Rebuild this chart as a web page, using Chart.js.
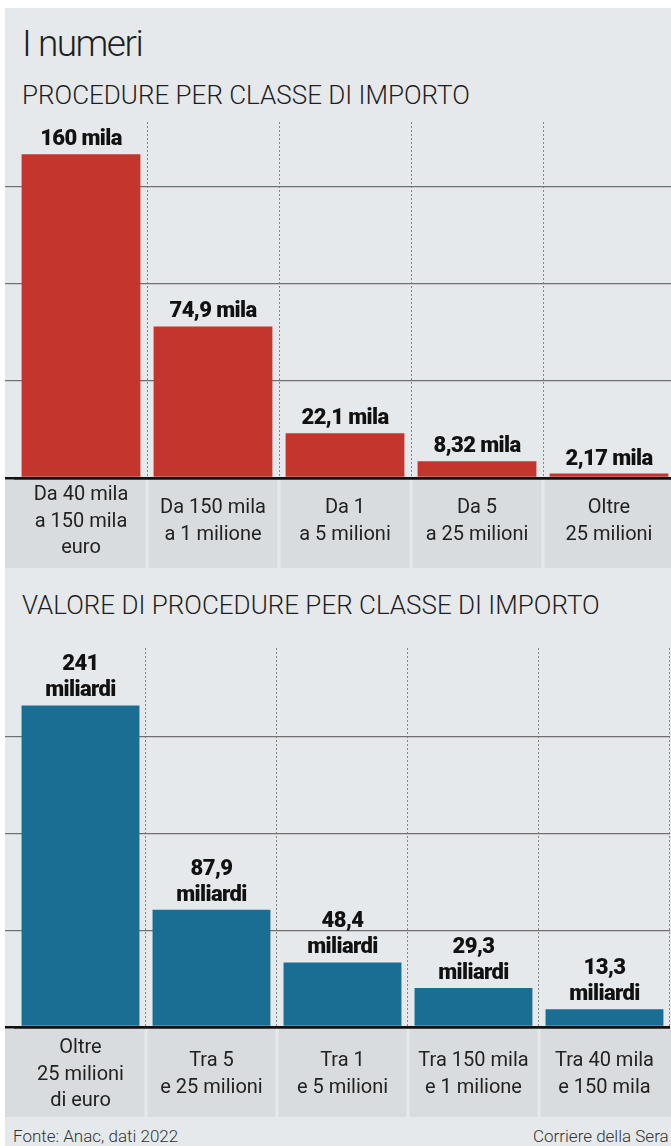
<!DOCTYPE html>
<html><head><meta charset="utf-8">
<script src="https://cdn.jsdelivr.net/npm/chart.js@4.4.1/dist/chart.umd.min.js"></script>
<style>
html,body{margin:0;padding:0;background:#fff;overflow:hidden;width:671px;height:1146px;}
#bg{position:absolute;left:5px;top:8px;width:666px;height:1138px;background:#e6e9ec;}
.t{position:absolute;font-family:Roboto,"DejaVu Sans",sans-serif;color:#1e1e1e;white-space:nowrap;line-height:1;}
#title{left:22px;top:25px;font-size:37px;font-weight:300;letter-spacing:-1.5px;}
#sub1{left:22px;top:82px;font-size:26px;font-weight:300;}
#sub2{left:22px;top:592px;font-size:26px;font-weight:300;}
#src{left:13px;top:1128px;font-size:17px;font-weight:300;color:#333;}
#brand{left:533px;top:1128px;font-size:17px;font-weight:300;color:#333;}
canvas{position:absolute;left:5px;}
#c1{top:110px;}
#c2{top:636px;}
</style>
</head><body>
<div id="bg"></div>
<div class="t" id="title">I numeri</div>
<div class="t" id="sub1">PROCEDURE PER CLASSE DI IMPORTO</div>
<div class="t" id="sub2">VALORE DI PROCEDURE PER CLASSE DI IMPORTO</div>
<canvas id="c1" width="670" height="460" style="width:670px;height:460px"></canvas>
<canvas id="c2" width="670" height="483" style="width:670px;height:483px"></canvas>
<div class="t" id="src">Fonte: Anac, dati 2022</div>
<div class="t" id="brand">Corriere della Sera</div>
<script>
// ---- data ----
const categories1 = [["Da 40 mila","a 150 mila","euro"],["Da 150 mila","a 1 milione"],["Da 1","a 5 milioni"],["Da 5","a 25 milioni"],["Oltre","25 milioni"]];
const values1 = [160, 74.9, 22.1, 8.32, 2.17];
const unit1 = "mila";
const gridValues1 = [0, 48, 96, 144];
const yMax1 = 176;

const categories2 = [["Oltre","25 milioni","di euro"],["Tra 5","e 25 milioni"],["Tra 1","e 5 milioni"],["Tra 150 mila","e 1 milione"],["Tra 40 mila","e 150 mila"]];
const values2 = [241, 87.9, 48.4, 29.3, 13.3];
const unit2 = "miliardi";
const gridValues2 = [0, 72.5, 145, 217.5];
const yMax2 = 284;

// ---- helpers ----
const fmt = v => String(v).replace('.', ',');
const FONT = 'Roboto, "DejaVu Sans", sans-serif';

const boxesPlugin = {
  id: 'boxes',
  beforeDraw(chart) {
    const {ctx, chartArea, scales: {x}} = chart;
    const n = chart.data.labels.length;
    const half = (chartArea.right - chartArea.left) / n / 2;
    ctx.save();
    ctx.fillStyle = '#d9dcdf';
    for (let i = 0; i < n; i++) {
      const c = x.getPixelForValue(i);
      const l = i === 0 ? 0 : c - half + 1.5;
      const r = i === n - 1 ? chart.width : c + half - 1.5;
      ctx.fillRect(l, chartArea.bottom + 2, r - l, 88);
    }
    ctx.restore();
  }
};

const valueLabelsPlugin = {
  id: 'valueLabels',
  afterDatasetsDraw(chart, args, opts) {
    const {ctx} = chart;
    const meta = chart.getDatasetMeta(0);
    const data = chart.data.datasets[0].data;
    ctx.save();
    ctx.font = '900 22px ' + FONT;
    ctx.fillStyle = '#111';
    ctx.textAlign = 'center';
    ctx.textBaseline = 'alphabetic';
    try { ctx.letterSpacing = '-0.6px'; } catch (e) {}
    meta.data.forEach((bar, i) => {
      const lines = opts.twoLines ? [fmt(data[i]), opts.unit] : [fmt(data[i]) + ' ' + opts.unit];
      lines.forEach((t, k) => {
        const y = bar.y - 9 - (lines.length - 1 - k) * 26;
        ctx.fillText(t, bar.x, y);
      });
    });
    ctx.restore();
  }
};

function makeChart(id, cats, vals, color, unit, twoLines, yMax, gridVals, tickPad) {
  return new Chart(document.getElementById(id), {
    type: 'bar',
    data: {
      labels: cats,
      datasets: [{ data: vals, backgroundColor: color, borderWidth: 0, barPercentage: 0.9, categoryPercentage: 1.0 }]
    },
    plugins: [boxesPlugin, valueLabelsPlugin],
    options: {
      responsive: false,
      animation: false,
      devicePixelRatio: 1,
      layout: { padding: { top: 12, left: 0, right: 0, bottom: 2 } },
      plugins: {
        legend: { display: false },
        tooltip: { enabled: false },
        valueLabels: { unit: unit, twoLines: twoLines }
      },
      scales: {
        x: {
          z: 1,
          offset: true,
          afterFit: s => { s.height = 90; },
          grid: {
            offset: true,
            drawTicks: false,
            color: c => (c.index === 0 || c.index === cats.length) ? 'rgba(0,0,0,0)' : '#858585',
            lineWidth: 1
          },
          border: { display: true, color: '#111', width: 2.5, dash: [2, 2] },
          ticks: {
            autoSkip: false, maxRotation: 0, minRotation: 0,
            crossAlign: 'center',
            padding: tickPad,
            color: '#222',
            font: { family: FONT, size: 20, weight: '400', lineHeight: 1.33 }
          }
        },
        y: {
          min: 0, max: yMax,
          afterBuildTicks: s => { s.ticks = gridVals.map(v => ({ value: v })); },
          afterFit: s => { s.width = 10; },
          ticks: { display: false },
          grid: {
            drawTicks: true, tickLength: 10,
            color: c => (c.tick && c.tick.value === 0) ? '#111' : '#707070',
            lineWidth: c => (c.tick && c.tick.value === 0) ? 2.5 : 1.2
          },
          border: { display: false }
        }
      }
    }
  });
}

makeChart('c1', categories1, values1, '#c4352d', unit1, false, yMax1, gridValues1, 17);
makeChart('c2', categories2, values2, '#1b6e93', unit2, true, yMax2, gridValues2, 21);
</script>
</body></html>
